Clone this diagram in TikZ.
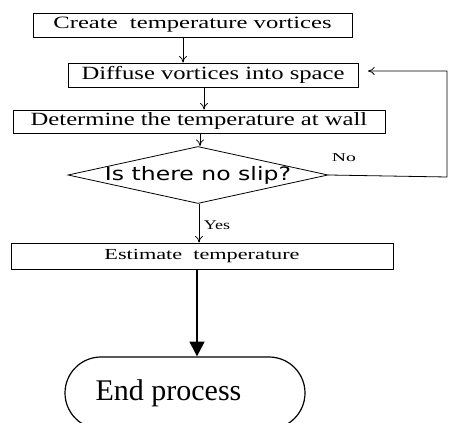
\documentclass[tikz,border=0pt]{standalone}
\usepackage{fontspec}
\setmainfont{Liberation Serif}
\newfontfamily\stA[FakeStretch=1.42]{Liberation Serif}
\newfontfamily\stB[FakeStretch=1.32]{Liberation Serif}
\newfontfamily\stC[FakeStretch=1.45]{Liberation Serif}
\newfontfamily\stNo[FakeStretch=1.64]{Liberation Serif}
\newfontfamily\stYes[FakeStretch=1.35]{Liberation Serif}
\newfontfamily\stSans[FakeStretch=1.27]{DejaVu Sans}
\usetikzlibrary{arrows.meta,shapes.geometric}
\tikzset{
  stepbox/.style={draw, line width=0.6pt, inner sep=0pt, rectangle},
  thin arrow/.style={line width=0.6pt, -{To[length=5pt,width=6pt]}},
  thin line/.style={line width=0.6pt},
  thick arrow/.style={line width=1.6pt, -{Triangle[length=11pt,width=11pt]}},
}
\begin{document}
\begin{tikzpicture}[x=0.75pt,y=-0.75pt]
\useasboundingbox (0,0) rectangle (449,423);
% boxes
\node[stepbox, minimum width=239.25pt, minimum height=18pt] (b1) at (192.5,25)
  {\stA\fontsize{13}{15}\selectfont Create\ \ temperature vortices};
\node[stepbox, minimum width=217.5pt, minimum height=18pt] (b2) at (213,75)
  {\stB\fontsize{14}{16}\selectfont Diffuse vortices into space};
\node[stepbox, minimum width=279pt, minimum height=17.25pt] (b3) at (199,121.5)
  {\stB\fontsize{14}{16}\selectfont Determine the temperature at wall};
\node[diamond, draw, line width=0.6pt, inner sep=0pt, minimum width=195pt, minimum height=42.75pt] (dec) at (198,175)
  {\makebox[0pt]{\stSans\fontsize{13.9}{16}\selectfont Is there no slip?}};
\node[stepbox, minimum width=286.5pt, minimum height=19.5pt] (b4) at (202,256)
  {\stC\fontsize{11.5}{13}\selectfont Estimate\ \ temperature};
\node[draw, line width=0.9pt, rounded corners=27pt, minimum width=180pt, minimum height=54pt, inner sep=0pt] (end) at (185,393)
  {\fontsize{22.5}{26}\selectfont End process\hspace*{24.75pt}};
% labels
\node (no) at (344,158) {\stNo\fontsize{9}{10}\selectfont No};
\node (yes) at (217,225) {\stYes\fontsize{10}{11}\selectfont Yes};
% connector positions
\coordinate (x1) at (183,0);
\coordinate (x2) at (204,0);
\coordinate (x3) at (200,0);
\coordinate (x4) at (199,0);
\coordinate (x5) at (197,0);
\coordinate (r1) at (447,177);
\coordinate (r2) at (447,71);
\coordinate (r3) at (368,71);
% connectors
\draw[thin arrow] (b1.south -| x1) -- (b2.north -| x1);
\draw[thin arrow] (b2.south -| x2) -- (b3.north -| x2);
\draw[thin arrow] (b3.south -| x3) -- (dec.north -| x3);
\draw[thin arrow] (dec.south -| x4) -- (b4.north -| x4);
\draw[thick arrow] (b4.south -| x5) -- (end.north -| x5);
\draw[thin arrow] (dec.east) -- (r1) -- (r2) -- (r3);
\end{tikzpicture}
\end{document}
